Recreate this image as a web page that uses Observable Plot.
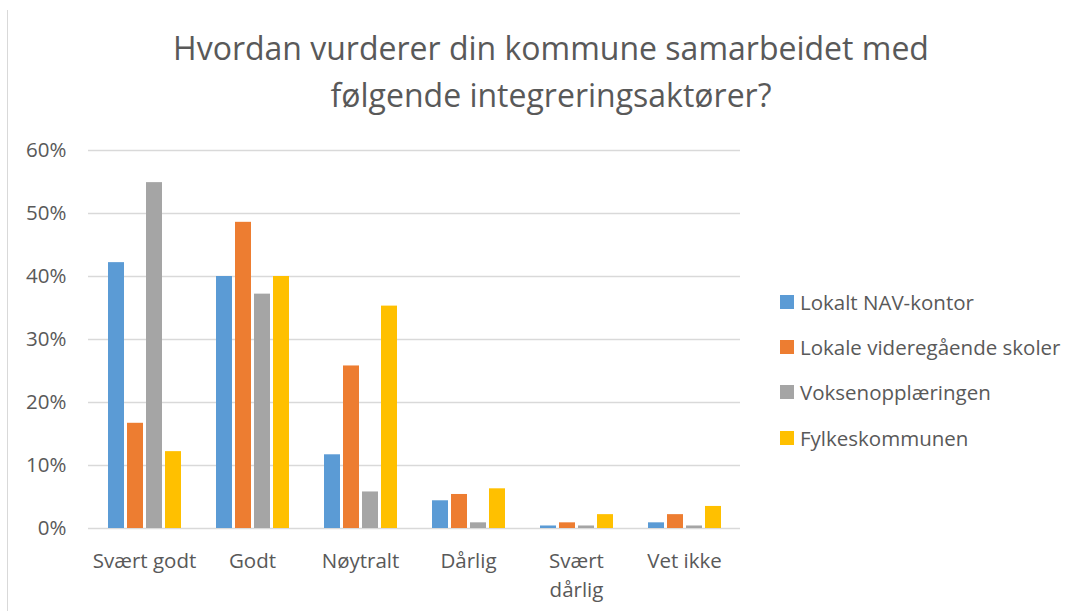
<!DOCTYPE html>
<html>
<head>
<meta charset="utf-8">
<script src="https://cdn.jsdelivr.net/npm/d3@7"></script>
<script src="https://cdn.jsdelivr.net/npm/@observablehq/plot@0.6"></script>
<style>
  html, body { margin: 0; padding: 0; background: #fff; }
  #root { position: relative; width: 1079px; height: 611px; overflow: hidden; font-family: "Open Sans", Lato, sans-serif; color: #595959; }
  #frame { position: absolute; left: 7px; top: 10px; width: 0; height: 601px; border-left: 1.5px solid #d9d9d9; }
  #title { position: absolute; left: 551px; top: 24px; transform: translateX(-50%); white-space: nowrap; text-align: center; font-size: 32px; line-height: 47px; color: #595959; }
  .layer { position: absolute; left: 0; top: 0; }
  #legend { position: absolute; left: 780px; top: 279px; font-size: 20.5px; color: #595959; }
  .item { display: flex; align-items: center; height: 45.3px; }
  .sw { width: 14px; height: 14px; margin-right: 6px; flex: none; }
</style>
</head>
<body>
<div id="root">
  <div id="frame"></div>
  <div id="title">Hvordan vurderer din kommune samarbeidet med<br>følgende integreringsaktører?</div>
  <div id="legend"></div>
</div>
<script>
const categories = ["Svært godt", "Godt", "Nøytralt", "Dårlig", "Svært dårlig", "Vet ikke"];
const categoryLabels = ["Svært godt", "Godt", "Nøytralt", "Dårlig", "Svært\ndårlig", "Vet ikke"];
const series = ["Lokalt NAV-kontor", "Lokale videregående skoler", "Voksenopplæringen", "Fylkeskommunen"];
const navValues = [0.422, 0.400, 0.117, 0.044, 0.004, 0.009];
const vgsValues = [0.167, 0.486, 0.258, 0.054, 0.009, 0.022];
const voksenValues = [0.549, 0.372, 0.058, 0.009, 0.004, 0.004];
const fylkeValues = [0.122, 0.400, 0.353, 0.063, 0.022, 0.035];
const seriesColors = ["#5B9BD5", "#ED7D31", "#A5A5A5", "#FFC000"];
const yTicks = [0, 0.1, 0.2, 0.3, 0.4, 0.5, 0.6];

const allValues = [navValues, vgsValues, voksenValues, fylkeValues];
const data = [];
categories.forEach((c, i) => {
  series.forEach((s, j) => data.push({category: c, series: s, value: allValues[j][i]}));
});

const W = 1079, H = 611;
const margins = {marginTop: 150, marginBottom: 83, marginLeft: 88, marginRight: 339};
const fontStyle = {fontFamily: "'Open Sans', Lato, sans-serif", fontSize: "20.5px", color: "#595959", background: "transparent", overflow: "visible"};
const labelMap = new Map(categories.map((c, i) => [c, categoryLabels[i]]));

const back = Plot.plot({
  width: W, height: H, ...margins,
  style: fontStyle,
  x: {domain: categories, paddingInner: 0.31, paddingOuter: 0.155, label: null},
  y: {domain: [0, 0.6], label: null},
  marks: [
    Plot.ruleY(yTicks, {stroke: "#d9d9d9", strokeWidth: 1.5}),
    Plot.axisY({ticks: yTicks, tickSize: 0, tickPadding: 22, tickFormat: d => Math.round(d * 100) + "%", label: null, fill: "#595959"}),
    Plot.axisX({tickSize: 0, tickPadding: 19, tickFormat: d => labelMap.get(d), label: null, fill: "#595959", lineHeight: 1.42})
  ]
});
back.classList.add("layer");

const front = Plot.plot({
  width: W, height: H, ...margins,
  style: fontStyle,
  fx: {domain: categories, paddingInner: 0.31, paddingOuter: 0.155, axis: null, label: null},
  x: {domain: series, paddingInner: 0.18, paddingOuter: 0, axis: null},
  y: {domain: [0, 0.6], axis: null},
  color: {domain: series, range: seriesColors},
  marks: [
    Plot.barY(data, {fx: "category", x: "series", y: "value", fill: "series"})
  ]
});
front.classList.add("layer");

const root = document.getElementById("root");
root.appendChild(back);
root.appendChild(front);

const legend = document.getElementById("legend");
series.forEach((s, i) => {
  const item = document.createElement("div");
  item.className = "item";
  const sw = document.createElement("div");
  sw.className = "sw";
  sw.style.background = seriesColors[i];
  const t = document.createElement("span");
  t.textContent = s;
  item.appendChild(sw);
  item.appendChild(t);
  legend.appendChild(item);
});
</script>
</body>
</html>
